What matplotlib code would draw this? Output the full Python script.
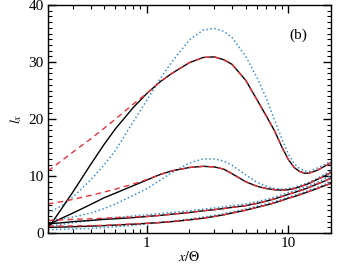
import numpy as np
import matplotlib
matplotlib.use('Agg')
import matplotlib.pyplot as plt
from matplotlib.ticker import MultipleLocator, LogLocator, NullFormatter, FixedLocator

plt.rcParams['font.family'] = ['Liberation Serif', 'DejaVu Serif']
plt.rcParams['mathtext.fontset'] = 'stix'

# ---------------- data ----------------
x = [0.2, 0.25, 0.3, 0.4, 0.5, 0.6, 0.8, 1.0, 1.25, 1.5, 2.0, 2.5, 3.0, 3.5,
     4.0, 5.0, 6.0, 7.0, 8.0, 9.0, 10, 11, 12, 13, 14, 16, 18, 20]

# group 1 (largest hump)
black1 = [0.8, 4.3, 7.2, 12.0, 15.6, 18.3, 22.0, 24.5, 26.6, 28.0, 29.9, 30.8, 30.9, 30.4,
          29.6, 26.8, 23.4, 20.5, 17.9, 15.1, 12.9, 11.5, 10.8, 10.5, 10.5, 11.0, 11.7, 12.3]
red1 = [10.9, 12.7, 14.2, 16.5, 18.4, 20.0, 22.6, 24.5, 26.6, 28.0, 29.9, 30.8, 30.9, 30.4,
        29.6, 26.8, 23.4, 20.5, 17.9, 15.1, 12.9, 11.5, 10.8, 10.5, 10.5, 11.0, 11.7, 12.3]
blue1 = [3.5, 4.8, 6.3, 9.3, 12.0, 14.5, 19.5, 23.3, 27.2, 30.0, 33.9, 35.6, 35.9, 35.4,
         34.3, 31.0, 27.3, 23.6, 19.8, 16.5, 13.9, 12.2, 11.3, 10.9, 10.8, 11.4, 12.0, 12.6]

# group 2
black2 = [1.4, 2.6, 3.5, 5.0, 6.2, 7.0, 8.3, 9.3, 10.3, 10.9, 11.5, 11.7, 11.6, 11.2,
          10.4, 9.0, 8.2, 7.8, 7.6, 7.5, 7.6, 7.8, 8.1, 8.4, 8.7, 9.4, 10.0, 10.6]
red2 = [5.1, 5.5, 5.9, 6.6, 7.2, 7.7, 8.6, 9.4, 10.3, 10.9, 11.5, 11.7, 11.6, 11.2,
        10.4, 9.0, 8.2, 7.8, 7.6, 7.5, 7.6, 7.8, 8.1, 8.4, 8.7, 9.4, 10.0, 10.6]
blue2 = [2.2, 2.5, 2.8, 3.5, 4.3, 5.1, 6.6, 7.8, 9.3, 10.6, 12.3, 13.0, 13.0, 12.6,
         11.9, 10.2, 8.9, 8.2, 7.8, 7.7, 7.8, 8.0, 8.3, 8.6, 8.9, 9.6, 10.3, 10.9]

# group 3
black3 = [1.6, 1.8, 2.0, 2.2, 2.4, 2.5, 2.7, 2.9, 3.1, 3.3, 3.6, 3.9, 4.1, 4.3,
          4.5, 4.8, 5.2, 5.6, 6.0, 6.4, 6.8, 7.1, 7.4, 7.7, 8.0, 8.6, 9.1, 9.6]
red3 = [2.2, 2.3, 2.4, 2.5, 2.6, 2.7, 2.8, 2.9, 3.1, 3.3, 3.6, 3.9, 4.1, 4.3,
        4.5, 4.8, 5.2, 5.6, 6.0, 6.4, 6.8, 7.1, 7.4, 7.7, 8.0, 8.6, 9.1, 9.6]
blue3 = [1.2, 1.5, 1.8, 2.2, 2.5, 2.7, 3.0, 3.2, 3.4, 3.6, 3.9, 4.2, 4.4, 4.6,
         4.8, 5.1, 5.5, 5.9, 6.3, 6.7, 7.1, 7.4, 7.7, 8.0, 8.3, 8.9, 9.5, 10.0]

# group 4
black4 = [1.0, 1.05, 1.1, 1.2, 1.3, 1.4, 1.55, 1.7, 1.85, 2.0, 2.3, 2.6, 2.9, 3.2,
          3.5, 4.0, 4.5, 4.9, 5.3, 5.7, 6.1, 6.4, 6.7, 7.0, 7.3, 7.8, 8.3, 8.7]
red4 = [1.2, 1.22, 1.25, 1.3, 1.35, 1.45, 1.6, 1.7, 1.85, 2.0, 2.3, 2.6, 2.9, 3.2,
        3.5, 4.0, 4.5, 4.9, 5.3, 5.7, 6.1, 6.4, 6.7, 7.0, 7.3, 7.8, 8.3, 8.7]
blue4 = [0.6, 0.65, 0.7, 0.8, 0.95, 1.1, 1.35, 1.6, 1.85, 2.05, 2.45, 2.8, 3.1, 3.4,
         3.7, 4.2, 4.7, 5.1, 5.5, 5.9, 6.3, 6.6, 6.9, 7.2, 7.5, 8.0, 8.5, 8.9]

blacks = [black1, black2, black3, black4]
reds = [red1, red2, red3, red4]
blues = [blue1, blue2, blue3, blue4]

# ---------------- plot ----------------
fig = plt.figure(figsize=(3.38, 2.66), dpi=100)
ax = fig.add_axes([0.142, 0.124, 0.837, 0.857])

for yb in blues:
    ax.plot(x, yb, color='#3b8fd4', linestyle=(0, (1, 1.6)), linewidth=1.1)
for yb in blacks:
    ax.plot(x, yb, color='black', linestyle='-', linewidth=1.0)
for yr in reds:
    ax.plot(x, yr, color='#e8303a', linestyle=(0, (4, 3)), linewidth=1.0)

ax.set_xscale('log')
ax.set_xlim(0.2, 20)
ax.set_ylim(0, 40)

ax.xaxis.set_major_locator(FixedLocator([1, 10]))
ax.set_xticklabels(['1', '10'])
ax.xaxis.set_minor_locator(LogLocator(base=10, subs=np.arange(2, 10)))
ax.xaxis.set_minor_formatter(NullFormatter())
ax.yaxis.set_major_locator(MultipleLocator(10))
ax.yaxis.set_minor_locator(MultipleLocator(1))

ax.tick_params(which='both', direction='in', top=True, right=True, labelsize=11)
ax.tick_params(which='major', length=6, width=1, pad=3)
ax.tick_params(which='minor', length=3, width=0.8)
for sp in ax.spines.values():
    sp.set_linewidth(1.0)

ax.set_xlabel(r'$x/\Theta$', fontsize=10, labelpad=0)
ax.set_ylabel(r'$l_x$', fontsize=10, labelpad=3)
ax.text(0.915, 0.868, '(b)', transform=ax.transAxes, fontsize=11, ha='right', va='center')

fig.savefig('out.png', dpi=100)
